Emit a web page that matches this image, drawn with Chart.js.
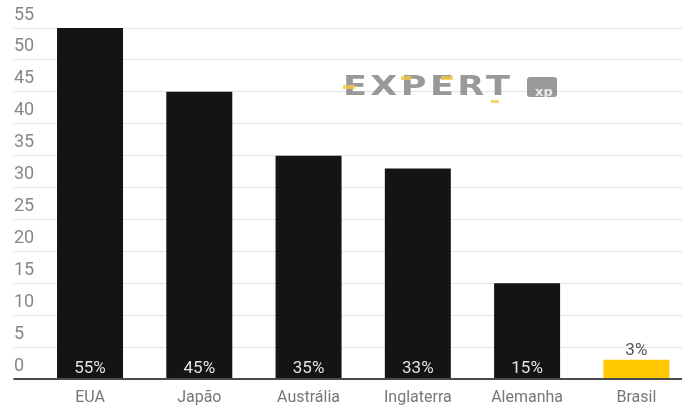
<!DOCTYPE html>
<html>
<head>
<meta charset="utf-8">
<script src="https://cdn.jsdelivr.net/npm/chart.js@4.4.1/dist/chart.umd.min.js"></script>
<style>
  html, body { margin: 0; padding: 0; background: #fff; overflow: hidden; }
  #wrap { width: 691px; height: 407px; position: relative; }
</style>
</head>
<body>
<div id="wrap"><canvas id="grafico"></canvas></div>
<script>
// Dados do gráfico
const paises = ['EUA', 'Japão', 'Austrália', 'Inglaterra', 'Alemanha', 'Brasil'];
const percentuais = [55, 45, 35, 33, 15, 3];
const rotulos = ['55%', '45%', '35%', '33%', '15%', '3%'];
const destaque = 'Brasil';

// Rótulos de porcentagem nas barras
const rotulosPlugin = {
    id: 'rotulos',
    afterDatasetsDraw(chart) {
        const ctx = chart.ctx;
        const meta = chart.getDatasetMeta(0);
        ctx.save();
        ctx.font = '17px Roboto';
        ctx.textAlign = 'center';
        ctx.textBaseline = 'alphabetic';
        meta.data.forEach((bar, i) => {
            const alto = bar.base - bar.y > 30;
            ctx.fillStyle = alto ? '#e2e2e2' : '#555';
            ctx.fillText(rotulos[i], bar.x, alto ? bar.base - 5 : bar.y - 5);
        });
        ctx.restore();
    }
};

// Marca d'água
const marcaPlugin = {
    id: 'marca',
    beforeDatasetsDraw(chart) {
        const ctx = chart.ctx;
        ctx.save();
        ctx.globalAlpha = 0.8;
        ctx.fillStyle = '#7f7f7f';
        ctx.translate(343, 95);
        ctx.scale(1.35, 1);
        ctx.font = 'bold 26px "DejaVu Sans"';
        ctx.letterSpacing = '2.5px';
        ctx.textBaseline = 'alphabetic';
        ctx.textAlign = 'left';
        ctx.fillText('EXPERT', 0, 0);
        ctx.setTransform(1, 0, 0, 1, 0, 0);
        ctx.fillStyle = '#f5c842';
        ctx.fillRect(343, 85, 12, 4);
        ctx.fillRect(401, 76, 10, 4);
        ctx.fillRect(441, 76, 12, 4);
        ctx.fillRect(491, 100, 8, 3);
        ctx.fillStyle = '#7f7f7f';
        ctx.beginPath();
        ctx.roundRect(527, 77, 30, 20, 3);
        ctx.fill();
        ctx.fillStyle = '#fff';
        ctx.letterSpacing = '0px';
        ctx.font = 'bold 13px "DejaVu Sans"';
        ctx.fillText('xp', 535, 96);
        ctx.restore();
    }
};

new Chart(document.getElementById('grafico'), {
    type: 'bar',
    data: {
        labels: paises,
        datasets: [{
            data: percentuais,
            backgroundColor: paises.map(p => p === destaque ? '#ffc800' : '#121416'),
            barPercentage: 1,
            categoryPercentage: 0.604
        }]
    },
    options: {
        responsive: true,
        maintainAspectRatio: false,
        animation: false,
        layout: { padding: { left: 14, top: 28, right: 0, bottom: 0 } },
        plugins: { legend: { display: false }, tooltip: { enabled: false } },
        scales: {
            x: {
                grid: { display: false, drawTicks: false },
                border: { display: false },
                afterFit(scale) { scale.height = 28; },
                ticks: { color: '#777', font: { family: 'Roboto', size: 16 }, padding: 9 }
            },
            y: {
                min: 0,
                max: 55,
                border: { display: false },
                afterFit(scale) {
                    scale.width = 21.4;
                    scale.paddingTop = 0;
                    scale.paddingBottom = 0;
                },
                grid: {
                    color: c => c.tick && c.tick.value === 0 ? '#4a4a4a' : '#e3e3e3',
                    lineWidth: c => c.tick && c.tick.value === 0 ? 2 : 1,
                    tickLength: 22
                },
                ticks: {
                    stepSize: 5,
                    color: '#888',
                    font: { family: 'Roboto', size: 18 },
                    crossAlign: 'far',
                    labelOffset: -13
                }
            }
        }
    },
    plugins: [marcaPlugin, rotulosPlugin]
});
</script>
</body>
</html>
